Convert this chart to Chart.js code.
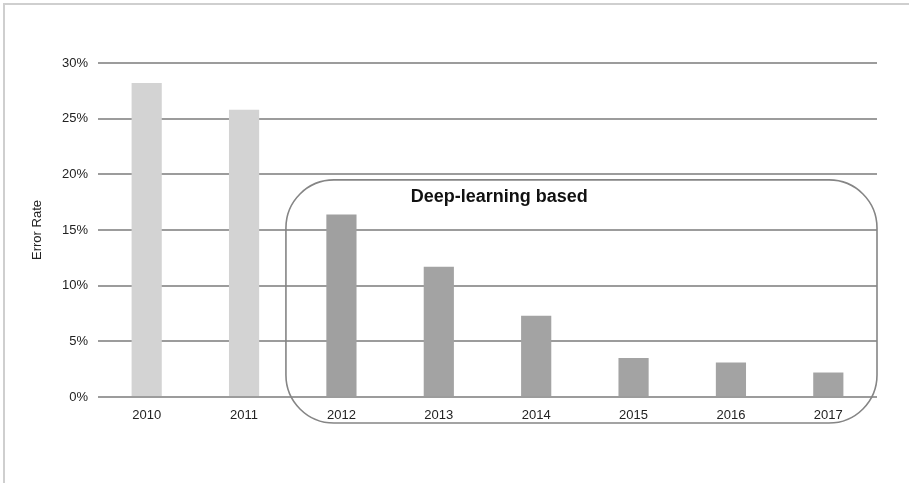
<!DOCTYPE html>
<html>
<head>
<meta charset="utf-8">
<script src="https://cdn.jsdelivr.net/npm/chart.js@4/dist/chart.umd.min.js"></script>
<style>
  html, body { margin: 0; padding: 0; background: #fff; }
  #wrap { position: relative; width: 909px; height: 483px; overflow: hidden; }
  #frame { position: absolute; left: 3px; top: 3px; width: 920px; height: 500px;
           border-top: 2px solid #cfcfcf; border-left: 2px solid #cfcfcf; box-sizing: border-box; }
  canvas { position: absolute; left: 0; top: 0; }
</style>
</head>
<body>
<div id="wrap">
  <div id="frame"></div>
  <canvas id="c" width="909" height="483"></canvas>
</div>
<script>
// Data
const years = ['2010', '2011', '2012', '2013', '2014', '2015', '2016', '2017'];
const errorRates = [28.2, 25.8, 16.4, 11.7, 7.3, 3.5, 3.1, 2.2];
const barColors = ['#d3d3d3', '#d3d3d3', '#a0a0a0', '#a3a3a3', '#a3a3a3', '#a3a3a3', '#a3a3a3', '#a3a3a3'];
const yTicks = [0, 5, 10, 15, 20, 25, 30];
const boxLabel = 'Deep-learning based';
const yTitle = 'Error Rate';

const FONT = "'Liberation Sans', Arial, Helvetica, sans-serif";

const boxPlugin = {
  id: 'dlBox',
  afterDraw(chart) {
    const ctx = chart.ctx;
    const x = chart.scales.x, y = chart.scales.y;
    const left = x.getPixelForValue(1.43);
    const right = chart.chartArea.right;
    const top = y.getPixelForValue(19.5);
    const bottom = chart.chartArea.bottom + 26;
    const r = 48;
    ctx.save();
    ctx.beginPath();
    ctx.roundRect(left, top, right - left, bottom - top, r);
    ctx.lineWidth = 1.6;
    ctx.strokeStyle = '#858585';
    ctx.stroke();
    ctx.fillStyle = '#111';
    ctx.font = "bold 18px " + FONT;
    ctx.textAlign = 'center';
    ctx.textBaseline = 'middle';
    ctx.fillText(boxLabel, x.getPixelForValue(3.62), top + 17);
    ctx.restore();
  }
};

new Chart(document.getElementById('c'), {
  type: 'bar',
  data: {
    labels: years,
    datasets: [{
      data: errorRates,
      backgroundColor: barColors,
      borderWidth: 0,
      categoryPercentage: 1,
      barPercentage: 0.31
    }]
  },
  options: {
    responsive: false,
    animation: false,
    devicePixelRatio: 1,
    layout: { padding: { left: 28, right: 32, top: 63, bottom: 56 } },
    plugins: { legend: { display: false }, tooltip: { enabled: false } },
    scales: {
      x: {
        grid: { display: false },
        border: { display: false },
        ticks: { color: '#222', font: { family: FONT, size: 13 }, padding: 3, maxRotation: 0 },
        afterFit(s) { s.height = 30; }
      },
      y: {
        min: 0, max: 30,
        afterBuildTicks(s) { s.ticks = yTicks.map(v => ({ value: v })); },
        grid: { color: '#9c9c9c', lineWidth: 2, drawTicks: false },
        border: { display: false },
        ticks: { color: '#222', font: { family: FONT, size: 13 }, padding: 10, callback: v => v + '%' },
        title: { display: true, text: yTitle, color: '#222', font: { family: FONT, size: 13 }, padding: { top: 2, bottom: 0 } },
        afterFit(s) { s.width = 70; }
      }
    }
  },
  plugins: [boxPlugin]
});
</script>
</body>
</html>
